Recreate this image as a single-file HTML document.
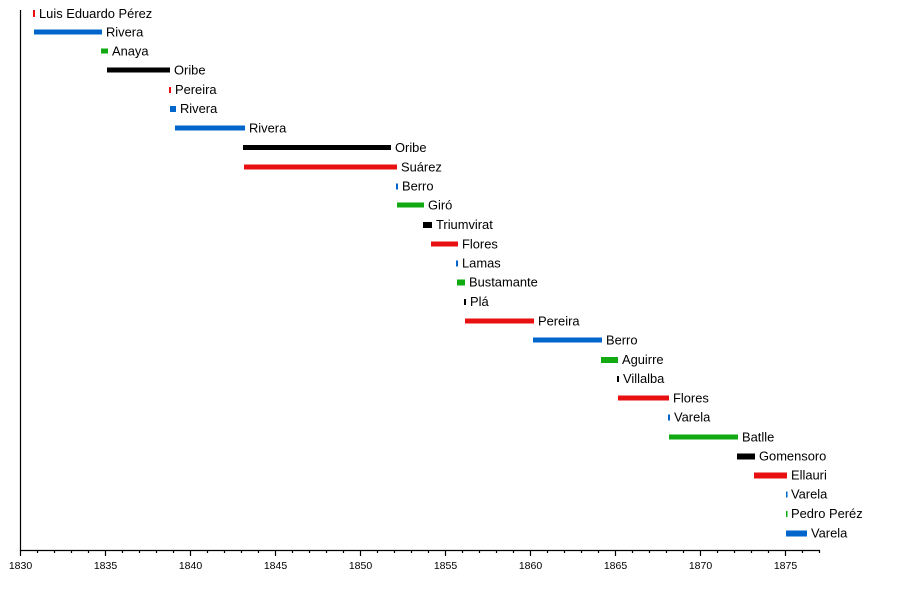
<!DOCTYPE html>
<html><head><meta charset="utf-8"><style>body{margin:0;background:#fff}svg{display:block}text{font-family:"Liberation Sans",sans-serif}</style></head><body>
<svg width="900" height="600" xmlns="http://www.w3.org/2000/svg">
<g stroke="#000" stroke-width="1.2" fill="none">
<path d="M20.5 10V550.5H820"/>
<path d="M20.5 550v6M105.5 550v6M190.5 550v6M275.5 550v6M360.5 550v6M445.5 550v6M530.5 550v6M615.5 550v6M700.5 550v6M785.5 550v6"/>
<path d="M37.5 550v3M54.5 550v3M71.5 550v3M88.5 550v3M122.5 550v3M139.5 550v3M156.5 550v3M173.5 550v3M207.5 550v3M224.5 550v3M241.5 550v3M258.5 550v3M292.5 550v3M309.5 550v3M326.5 550v3M343.5 550v3M377.5 550v3M394.5 550v3M411.5 550v3M428.5 550v3M462.5 550v3M479.5 550v3M496.5 550v3M513.5 550v3M547.5 550v3M564.5 550v3M581.5 550v3M598.5 550v3M632.5 550v3M649.5 550v3M666.5 550v3M683.5 550v3M717.5 550v3M734.5 550v3M751.5 550v3M768.5 550v3M802.5 550v3M819.5 550v3"/>
</g>
<g font-size="10.5" text-anchor="middle" fill="#000">
<text x="20.5" y="569">1830</text><text x="105.5" y="569">1835</text><text x="190.5" y="569">1840</text><text x="275.5" y="569">1845</text><text x="360.5" y="569">1850</text><text x="445.5" y="569">1855</text><text x="530.5" y="569">1860</text><text x="615.5" y="569">1865</text><text x="700.5" y="569">1870</text><text x="785.5" y="569">1875</text>
</g>
<g font-size="12.9" fill="#000">
<rect x="33" y="10" width="2" height="7" fill="#e81010"/><text x="39" y="18">Luis Eduardo Pérez</text>
<rect x="34" y="29.5" width="68" height="5" fill="#0066cc"/><text x="106" y="36.5">Rivera</text>
<rect x="101" y="48.5" width="7" height="5" fill="#11aa11"/><text x="112" y="55.5">Anaya</text>
<rect x="107" y="67.5" width="63" height="5" fill="#000"/><text x="174" y="74.5">Oribe</text>
<rect x="169" y="87" width="2" height="6" fill="#e81010"/><text x="175" y="94">Pereira</text>
<rect x="170" y="106" width="6" height="6" fill="#0066cc"/><text x="180" y="113">Rivera</text>
<rect x="175" y="125.5" width="70" height="5" fill="#0066cc"/><text x="249" y="132.5">Rivera</text>
<rect x="243" y="145" width="148" height="5" fill="#000"/><text x="395" y="152">Oribe</text>
<rect x="244" y="164.5" width="153" height="5" fill="#e81010"/><text x="401" y="171.5">Suárez</text>
<rect x="396" y="183.5" width="2" height="6" fill="#0066cc"/><text x="402" y="190.5">Berro</text>
<rect x="397" y="202.5" width="27" height="5" fill="#11aa11"/><text x="428" y="209.5">Giró</text>
<rect x="423" y="222" width="9" height="6" fill="#000"/><text x="436" y="229">Triumvirat</text>
<rect x="431" y="241.5" width="27" height="5" fill="#e81010"/><text x="462" y="248.5">Flores</text>
<rect x="456" y="260.5" width="2" height="6" fill="#0066cc"/><text x="462" y="267.5">Lamas</text>
<rect x="457" y="279.5" width="8" height="6" fill="#11aa11"/><text x="469" y="286.5">Bustamante</text>
<rect x="464" y="299" width="2" height="6" fill="#000"/><text x="470" y="306">Plá</text>
<rect x="465" y="318.5" width="69" height="5" fill="#e81010"/><text x="538" y="325.5">Pereira</text>
<rect x="533" y="337.5" width="69" height="5" fill="#0066cc"/><text x="606" y="344.5">Berro</text>
<rect x="601" y="357" width="17" height="6" fill="#11aa11"/><text x="622" y="364">Aguirre</text>
<rect x="617" y="376" width="2" height="6" fill="#000"/><text x="623" y="383">Villalba</text>
<rect x="618" y="395.5" width="51" height="5" fill="#e81010"/><text x="673" y="402.5">Flores</text>
<rect x="668" y="414.5" width="2" height="6" fill="#0066cc"/><text x="674" y="421.5">Varela</text>
<rect x="669" y="434.5" width="69" height="5" fill="#11aa11"/><text x="742" y="441.5">Batlle</text>
<rect x="737" y="453.5" width="18" height="6" fill="#000"/><text x="759" y="460.5">Gomensoro</text>
<rect x="754" y="472.5" width="33" height="6" fill="#e81010"/><text x="791" y="479.5">Ellauri</text>
<rect x="786" y="491.5" width="1.5" height="6" fill="#0066cc"/><text x="791" y="498.5">Varela</text>
<rect x="786" y="511" width="1.5" height="6" fill="#11aa11"/><text x="791" y="518">Pedro Peréz</text>
<rect x="786" y="530.5" width="21" height="6" fill="#0066cc"/><text x="811" y="537.5">Varela</text>
</g>
</svg>
</body></html>
